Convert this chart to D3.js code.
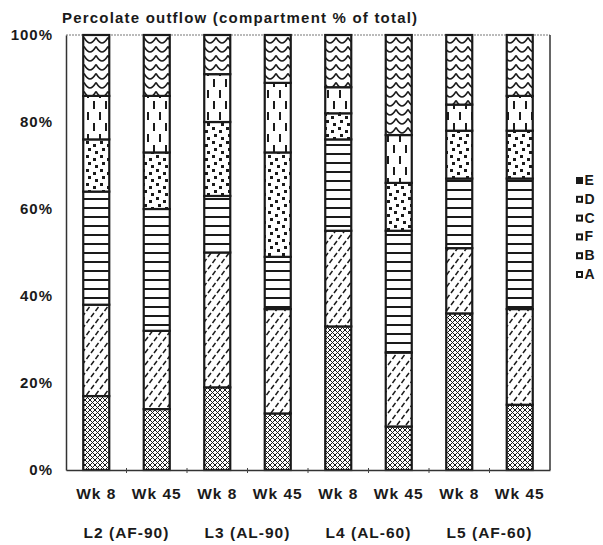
<!DOCTYPE html>
<html>
<head>
<meta charset="utf-8">
<script src="https://cdn.jsdelivr.net/npm/d3@7"></script>
<style>
  body { margin: 0; background: #fff; }
  text { font-family: "Liberation Sans", Arial, sans-serif; font-weight: bold; fill: #1a1a1a; }
</style>
</head>
<body>
<div id="chart"></div>
<script>
// Data (percent of total per compartment)
const groups = ["L2 (AF-90)", "L3 (AL-90)", "L4 (AL-60)", "L5 (AF-60)"];
const weeks = ["Wk 8", "Wk 45", "Wk 8", "Wk 45", "Wk 8", "Wk 45", "Wk 8", "Wk 45"];
const compartments = ["A", "B", "F", "C", "D", "E"];   // bottom to top
const valA = [17, 14, 19, 13, 33, 10, 36, 15];
const valB = [21, 18, 31, 24, 22, 17, 15, 22];
const valF = [26, 28, 13, 12, 21, 28, 16, 30];
const valC = [12, 13, 17, 24, 6, 11, 11, 11];
const valD = [10, 13, 11, 16, 6, 11, 6, 8];
const valE = [14, 14, 9, 11, 12, 23, 16, 14];
const yTicks = [0, 20, 40, 60, 80, 100];

const series = { A: valA, B: valB, F: valF, C: valC, D: valD, E: valE };

const W = 603, H = 545;
const plot = { left: 66, right: 550, top: 35, bottom: 470 };

const svg = d3.select("#chart")
  .append("svg")
  .attr("width", W)
  .attr("height", H);

// ---- patterns ----
const defs = svg.append("defs");
const ink = "#1a1a1a";

// A: cross hatch
const pA = defs.append("pattern").attr("id", "pat-A")
  .attr("patternUnits", "userSpaceOnUse").attr("width", 5).attr("height", 5);
pA.append("rect").attr("width", 5).attr("height", 5).attr("fill", "#fff");
pA.append("path").attr("d", "M0,0 L5,5 M5,0 L0,5 M-1,4 L1,6 M4,-1 L6,1 M-1,1 L1,-1 M4,6 L6,4")
  .attr("stroke", ink).attr("stroke-width", 1);

// B: short diagonal dashes
const pB = defs.append("pattern").attr("id", "pat-B")
  .attr("patternUnits", "userSpaceOnUse").attr("width", 9).attr("height", 12);
pB.append("rect").attr("width", 9).attr("height", 12).attr("fill", "#fff");
pB.append("path").attr("d", "M1,5 L4,1 M5.5,11 L8.5,7")
  .attr("stroke", ink).attr("stroke-width", 1.5);

// F: horizontal lines
const pF = defs.append("pattern").attr("id", "pat-F")
  .attr("patternUnits", "userSpaceOnUse").attr("width", 10).attr("height", 9);
pF.append("rect").attr("width", 10).attr("height", 9).attr("fill", "#fff");
pF.append("rect").attr("y", 0).attr("width", 10).attr("height", 2).attr("fill", ink);

// C: scattered dots
const pC = defs.append("pattern").attr("id", "pat-C")
  .attr("patternUnits", "userSpaceOnUse").attr("width", 14).attr("height", 14);
pC.append("rect").attr("width", 14).attr("height", 14).attr("fill", "#fff");
[[2, 1], [9, 4], [4, 8], [11, 11]].forEach(p => {
  pC.append("rect").attr("x", p[0]).attr("y", p[1]).attr("width", 3).attr("height", 3).attr("fill", ink);
});

// D: vertical dashes
const pD = defs.append("pattern").attr("id", "pat-D")
  .attr("patternUnits", "userSpaceOnUse").attr("width", 12).attr("height", 22);
pD.append("rect").attr("width", 12).attr("height", 22).attr("fill", "#fff");
pD.append("rect").attr("x", 3).attr("y", 2).attr("width", 2).attr("height", 8).attr("fill", ink);
pD.append("rect").attr("x", 9).attr("y", 13).attr("width", 2).attr("height", 8).attr("fill", ink);

// E: zigzag waves
const pE = defs.append("pattern").attr("id", "pat-E")
  .attr("patternUnits", "userSpaceOnUse").attr("width", 12).attr("height", 9);
pE.append("rect").attr("width", 12).attr("height", 9).attr("fill", "#fff");
pE.append("path").attr("d", "M0,1.5 Q3,7 6,7 Q9,7 12,1.5")
  .attr("stroke", ink).attr("stroke-width", 1.6).attr("fill", "none");

// ---- scales ----
const x = d3.scaleBand()
  .domain(d3.range(weeks.length))
  .range([plot.left, plot.right])
  .paddingInner(0.57)
  .paddingOuter(0.285);

const y = d3.scaleLinear()
  .domain([0, 100])
  .range([plot.bottom, plot.top]);

// stack the compartments
const rows = weeks.map((w, i) => {
  const r = { i: i };
  compartments.forEach(c => r[c] = series[c][i]);
  return r;
});
const stacked = d3.stack().keys(compartments)(rows);

// ---- frame ----
svg.append("line")
  .attr("x1", plot.left).attr("x2", plot.right)
  .attr("y1", plot.top).attr("y2", plot.top)
  .attr("stroke", "#777").attr("stroke-width", 1.2).attr("stroke-dasharray", "2,1");
svg.append("line")
  .attr("x1", plot.right).attr("x2", plot.right)
  .attr("y1", plot.top).attr("y2", plot.bottom)
  .attr("stroke", "#333").attr("stroke-width", 1.5);

// bars
svg.append("g")
  .selectAll("g")
  .data(stacked)
  .enter()
  .append("g")
  .attr("fill", d => "url(#pat-" + d.key + ")")
  .selectAll("rect")
  .data(d => d)
  .enter()
  .append("rect")
  .attr("x", d => x(d.data.i))
  .attr("y", d => y(d[1]))
  .attr("width", x.bandwidth())
  .attr("height", d => y(d[0]) - y(d[1]))
  .attr("stroke", ink)
  .attr("stroke-width", 2.2);

// Y axis
const yAxis = svg.append("g")
  .attr("transform", "translate(" + plot.left + ",0)")
  .call(d3.axisLeft(y).tickValues(yTicks).tickFormat(d => d + "%").tickSize(0).tickPadding(13));
yAxis.select(".domain").attr("stroke", "#333").attr("stroke-width", 1.5);
yAxis.selectAll("text")
  .style("font-size", "15px")
  .style("letter-spacing", "1px")
  .attr("fill", ink);

// X axis
const xAxis = svg.append("g")
  .attr("transform", "translate(0," + plot.bottom + ")")
  .call(d3.axisBottom(x).tickFormat(i => weeks[i]).tickSize(0).tickPadding(18));
xAxis.select(".domain").attr("stroke", "#333").attr("stroke-width", 1.5);
xAxis.selectAll("text")
  .style("font-size", "15.5px")
  .style("letter-spacing", "1px")
  .attr("fill", ink);

// small ticks between bars
svg.append("g")
  .selectAll("line")
  .data(d3.range(1, weeks.length))
  .enter()
  .append("line")
  .attr("x1", i => x(i) - x.step() * x.paddingInner() / 2)
  .attr("x2", i => x(i) - x.step() * x.paddingInner() / 2)
  .attr("y1", plot.bottom - 2)
  .attr("y2", plot.bottom + 3)
  .attr("stroke", "#444")
  .attr("stroke-width", 1);

// group labels under each pair of bars
svg.append("g")
  .selectAll("text")
  .data(groups)
  .enter()
  .append("text")
  .attr("x", (d, g) => (x(g * 2) + x(g * 2 + 1) + x.bandwidth()) / 2)
  .attr("y", 538)
  .attr("text-anchor", "middle")
  .style("font-size", "15.5px")
  .style("letter-spacing", "1px")
  .text(d => d);

// Title
svg.append("text")
  .attr("x", 62)
  .attr("y", 23)
  .style("font-size", "15px")
  .style("letter-spacing", "1.2px")
  .text("Percolate outflow (compartment % of total)");

// Legend (top to bottom E..A)
const legendKeys = compartments.slice().reverse();
const legend = svg.append("g")
  .attr("transform", "translate(576,177)");
const item = legend.selectAll("g")
  .data(legendKeys)
  .enter()
  .append("g")
  .attr("transform", (d, i) => "translate(0," + i * 18.8 + ")");
item.append("rect")
  .attr("width", 7).attr("height", 7)
  .attr("fill", ink);
item.filter(d => d !== "E")
  .append("rect")
  .attr("x", 2).attr("y", 2)
  .attr("width", 3).attr("height", 3)
  .attr("fill", "#fff");
item.append("text")
  .attr("x", 8.5)
  .attr("y", 8)
  .style("font-size", "14px")
  .text(d => d);
</script>
</body>
</html>
